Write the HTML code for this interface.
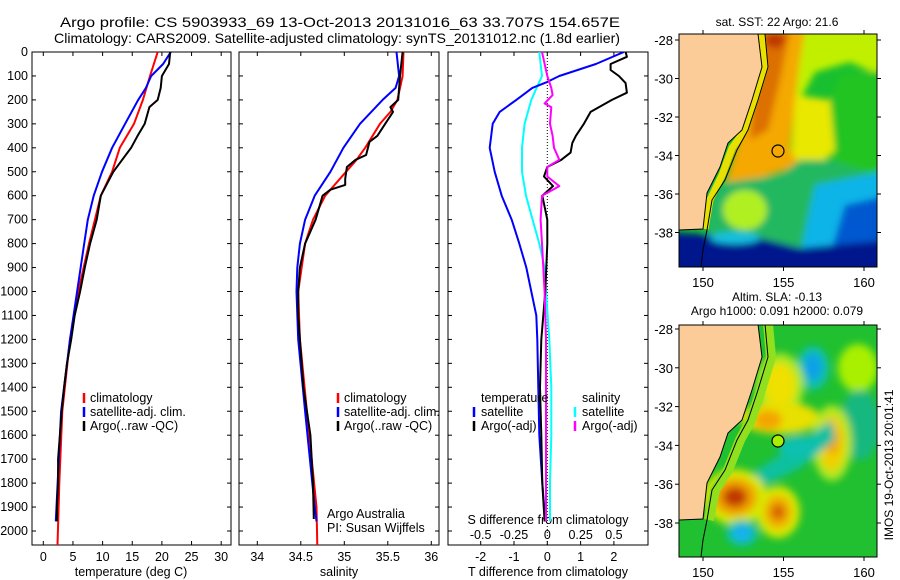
<!DOCTYPE html>
<html><head><meta charset="utf-8">
<style>
html,body{margin:0;padding:0;background:#fff;}
svg{display:block;font-family:"Liberation Sans",sans-serif;}
text{font-size:12.5px;fill:#000;}
</style></head>
<body>
<svg id="fig" width="900" height="580" viewBox="0 0 900 580" xmlns="http://www.w3.org/2000/svg">
<defs>
<clipPath id="c1"><rect x="32" y="52" width="199" height="493"/></clipPath>
<clipPath id="c2"><rect x="239" y="52" width="200" height="493"/></clipPath>
<clipPath id="c3"><rect x="448" y="52" width="200" height="493"/></clipPath>
<clipPath id="cm1"><rect x="679" y="34" width="198" height="233"/></clipPath>
<clipPath id="cm2"><rect x="679" y="325" width="198" height="232"/></clipPath>
<filter id="bl" x="-20%" y="-20%" width="140%" height="140%"><feGaussianBlur stdDeviation="3.5"/></filter>
<filter id="bl2" x="-30%" y="-30%" width="160%" height="160%"><feGaussianBlur stdDeviation="4"/></filter>
</defs>
<g>
<text x="340" y="27" text-anchor="middle" textLength="560" lengthAdjust="spacingAndGlyphs" style="font-size:14px">Argo profile: CS 5903933_69 13-Oct-2013 20131016_63 33.707S 154.657E</text>
<text x="337" y="43" text-anchor="middle" textLength="566" lengthAdjust="spacingAndGlyphs" style="font-size:14px">Climatology: CARS2009. Satellite-adjusted climatology: synTS_20131012.nc (1.8d earlier)</text>
</g>
<g id="depthLabels"></g>
<g id="p1"></g>
<g id="p2"></g>
<g id="p3"></g>

<!-- SST map -->
<g>
<text x="777" y="26" text-anchor="middle" style="font-size:12px">sat. SST: 22 Argo: 21.6</text>
<g clip-path="url(#cm1)">
<rect x="679" y="34" width="198" height="233" fill="#18c030"/>
<g filter="url(#bl)">
<polygon points="760,20 890,20 890,80 850,62 815,72 800,100 780,110" fill="#c0f000"/>
<polygon points="840,75 890,70 890,175 850,190 828,150 830,100" fill="#20c420"/>
<polygon points="795,95 830,100 835,150 815,170 790,170" fill="#e8e800"/>
<polygon points="755,30 805,30 800,60 795,100 790,150 800,165 770,175 722,192 735,150 752,100" fill="#f4a800"/>
<polygon points="760,30 790,30 780,80 768,130 750,140 755,80" fill="#dc7000"/>
<ellipse cx="775" cy="40" rx="10" ry="8" fill="#c03800"/>
<polygon points="705,185 780,175 800,160 830,160 877,175 877,250 705,245" fill="#20b860"/>
<ellipse cx="745" cy="210" rx="22" ry="20" fill="#b0f020"/>
<polygon points="815,185 890,170 890,255 800,255" fill="#10b4e8"/>
<polygon points="845,205 890,195 890,260 830,255" fill="#0058d0"/>
<polygon points="670,232 760,238 800,248 890,240 890,280 670,280" fill="#00188c"/>
<ellipse cx="735" cy="238" rx="25" ry="6" fill="#18c0e0"/>
</g>
<polyline points="762,34 765,67 755,100 745,130 732,148 722,175 710,200 705,229" fill="none" stroke="#e8e000" stroke-width="7"/>
<polygon points="679,34 758,34 762,67 752,100 742,130 728,143 720,167 707,193 703,229 679,230" fill="#fbcb98" stroke="#000" stroke-width="1"/>
<polyline points="765,34 768,67 758,100 748,130 737,150 725,180 712,200 707,230 703,250 701,267" fill="none" stroke="#000" stroke-width="1"/>
<circle cx="778" cy="151" r="6" fill="none" stroke="#000" stroke-width="1.2"/>
</g>
<rect x="679" y="34" width="198" height="233" fill="none" stroke="#000" stroke-width="1"/>
<g id="m1ticks"></g>
</g>

<!-- SLA map -->
<g>
<text x="777" y="301" text-anchor="middle" style="font-size:12px">Altim. SLA: -0.13</text>
<text x="777" y="315" text-anchor="middle" style="font-size:12px">Argo h1000: 0.091 h2000: 0.079</text>
<g clip-path="url(#cm2)">
<rect x="679" y="325" width="198" height="232" fill="#20c030"/>
<g filter="url(#bl2)">
<ellipse cx="858" cy="368" rx="20" ry="24" fill="#a8f000"/>
<ellipse cx="860" cy="425" rx="20" ry="35" fill="#18b880"/>
<ellipse cx="813" cy="368" rx="16" ry="22" fill="#10c0b0"/>
<ellipse cx="813" cy="367" rx="9" ry="13" fill="#10a0e8"/>
<ellipse cx="780" cy="385" rx="24" ry="32" fill="#a8e820"/>
<ellipse cx="780" cy="385" rx="16" ry="22" fill="#f0e000"/>
<ellipse cx="780" cy="418" rx="40" ry="16" fill="#e8e000"/>
<ellipse cx="768" cy="420" rx="14" ry="10" fill="#f4a400"/>
<ellipse cx="832" cy="443" rx="20" ry="38" fill="#b0e820"/>
<ellipse cx="832" cy="443" rx="13" ry="28" fill="#f0d000"/>
<ellipse cx="832" cy="440" rx="7" ry="14" fill="#f0a000"/>
<polygon points="745,478 800,442 832,420 835,440 800,468 755,490" fill="#10c0a0"/>
<ellipse cx="800" cy="447" rx="22" ry="11" fill="#10c0b0"/>
<ellipse cx="735" cy="497" rx="32" ry="28" fill="#d8e800"/>
<ellipse cx="735" cy="497" rx="22" ry="19" fill="#f0a000"/>
<ellipse cx="735" cy="497" rx="12" ry="10" fill="#c03800"/>
<ellipse cx="778" cy="512" rx="22" ry="26" fill="#d8e800"/>
<ellipse cx="778" cy="512" rx="14" ry="17" fill="#f0b000"/>
<ellipse cx="778" cy="512" rx="7" ry="8" fill="#d86000"/>
<ellipse cx="742" cy="533" rx="16" ry="13" fill="#10c0b0"/>
<ellipse cx="742" cy="533" rx="9" ry="8" fill="#18b0f0"/>
</g>
<g transform="translate(0,290)">
<polyline points="768,34 771,67 761,100 751,130 740,150 728,180 715,200 709,230" fill="none" stroke="#90e020" stroke-width="10"/>
<polygon points="679,34 758,34 762,67 752,100 742,130 728,143 720,167 707,193 703,229 679,230" fill="#fbcb98" stroke="#000" stroke-width="1"/>
<polyline points="765,34 768,67 758,100 748,130 737,150 725,180 712,200 707,230 703,250 701,267" fill="none" stroke="#000" stroke-width="1"/>
</g>
<circle cx="778" cy="441" r="6" fill="#a8f000" stroke="#000" stroke-width="1.2"/>
</g>
<rect x="679" y="325" width="198" height="232" fill="none" stroke="#000" stroke-width="1"/>
<g id="m2ticks"></g>
</g>
<text transform="translate(893,465) rotate(-90)" text-anchor="middle" style="font-size:12px">IMOS 19-Oct-2013 20:01:41</text>
</svg>
<script>
// ---- data ----
var tArgoDepth=[0,50,100,150,200,230,300,350,400,500,600,700,800,900,1000,1100,1200,1300,1400,1500,1600,1700,1800,1900,1960];
var tArgo=[21.4,21.2,20.0,19.8,19.3,17.9,17.1,15.9,14.8,11.8,9.7,9.0,7.9,7.0,6.2,5.3,4.7,4.0,3.5,3.1,2.8,2.5,2.5,2.3,2.3];
var tClimDepth=[0,100,200,300,400,500,600,700,800,1000,1200,1500,1800,2060];
var tClim=[19.3,18.0,16.8,15.3,12.9,11.6,9.7,8.7,7.7,5.9,4.5,3.2,2.7,2.4];
var tSatDepth=[0,50,100,150,200,300,400,500,600,700,800,1000,1200,1500,1960];
var tSat=[21.5,20.2,18.2,17.3,16.0,13.8,11.6,9.9,8.5,7.5,6.9,5.7,4.5,3.0,2.1];
var sArgoDepth=[0,100,200,230,250,300,350,375,430,450,480,530,555,575,600,700,800,900,1000,1100,1200,1400,1600,1800,1950];
var sArgo=[35.67,35.64,35.62,35.53,35.56,35.47,35.38,35.29,35.25,35.13,35.03,35.01,35.01,34.84,34.75,34.67,34.55,34.49,34.47,34.47,34.49,34.53,34.61,34.64,34.65];
var sClimDepth=[0,100,200,250,300,400,450,500,600,700,800,1000,1200,1500,1900,2060];
var sClim=[35.68,35.67,35.61,35.53,35.41,35.24,35.14,35.02,34.78,34.64,34.55,34.47,34.49,34.57,34.68,34.69];
var sSatDepth=[0,100,150,200,300,400,500,600,700,800,900,1000,1200,1500,1900,1960];
var sSat=[35.60,35.63,35.59,35.44,35.18,34.99,34.84,34.66,34.55,34.49,34.46,34.45,34.47,34.55,34.66,34.68];
var dtSatDepth=[0,50,100,125,150,200,250,300,400,500,600,700,800,900,1000,1100,1200,1400,1600,1800,1960];
var dtSat=[2.3,1.46,0.36,0,-0.45,-0.93,-1.43,-1.64,-1.73,-1.58,-1.37,-1.07,-0.84,-0.63,-0.48,-0.33,-0.3,-0.27,-0.24,-0.15,-0.06];
var dtArgoDepth=[0,20,50,75,100,130,170,200,250,300,350,380,420,450,480,520,560,600,700,800,1000,1200,1400,1600,1800,1960];
var dtArgo=[2.35,2.39,1.9,1.9,2.15,2.35,2.39,1.94,1.3,1.1,0.86,0.75,0.7,0.42,0,-0.1,0.17,-0.15,0,0,-0.06,-0.18,-0.22,-0.18,-0.15,-0.08];
var dsSatDepth=[0,100,150,200,300,400,500,600,700,800,900,1000,1200,1400,1600,1800,1960];
var dsSat=[-0.06,-0.04,-0.08,-0.12,-0.17,-0.19,-0.19,-0.16,-0.11,-0.06,-0.02,-0.01,0.015,0.03,0.03,0.02,0.02];
var dsArgoDepth=[0,100,150,180,215,230,300,350,400,450,480,520,560,600,700,800,1000,1200,1600,1960];
var dsArgo=[-0.04,0,0.03,0.04,-0.02,0.03,0.02,0.04,0.05,0.09,0,0,0.09,-0.04,-0.05,-0.04,-0.02,-0.01,-0.01,-0.01];
var depthTicks=[0,100,200,300,400,500,600,700,800,900,1000,1100,1200,1300,1400,1500,1600,1700,1800,1900,2000];
var tTicks=[0,5,10,15,20,25,30];
var sTicks=[34,34.5,35,35.5,36];
var dtTicks=[-2,-1,0,1,2];
var dsTicks=[-0.5,-0.25,0,0.25,0.5];
var dsTickLabels=["-0.5","-0.25","0","0.25","0.5"];
var lonTicks=[150,155,160];
var latTicks=[-28,-30,-32,-34,-36,-38];

// ---- scales ----
var NS="http://www.w3.org/2000/svg";
function yD(d){return 52+d*0.2395;}
function xT(t){return 43.3+t*5.93;}
function xS(s){return 257.3+(s-34)*87;}
function xDT(v){return 547.3+v*33.3;}
function xDS(v){return 547.3+v*133.3;}
function mk(tag,attrs,parent){var e=document.createElementNS(NS,tag);for(var k in attrs)e.setAttribute(k,attrs[k]);parent.appendChild(e);return e;}
function line(parent,xs,ds,xf,color,w,name){
  var p=xs.map(function(v,i){return xf(v).toFixed(1)+","+yD(ds[i]).toFixed(1);}).join(" ");
  var e=mk("polyline",{points:p,fill:"none",stroke:color,"stroke-width":w,"stroke-linejoin":"round"},parent);
  
  
}
function txt(parent,x,y,s,anchor,name,size){
  var e=mk("text",{x:x,y:y,"text-anchor":anchor||"start"},parent);
  if(size)e.setAttribute("style","font-size:"+size+"px");
  e.textContent=s;
  
  
  return e;
}
function frame(parent,x0,x1,name){
  var r=mk("rect",{x:x0,y:52,width:x1-x0,height:493,fill:"none",stroke:"#000","stroke-width":1},parent);
  
  
  depthTicks.forEach(function(d){
    mk("line",{x1:x0,x2:x0+4,y1:yD(d),y2:yD(d),stroke:"#000"},parent);
    mk("line",{x1:x1,x2:x1-4,y1:yD(d),y2:yD(d),stroke:"#000"},parent);
  });
}
function xticks(parent,ticks,xf,labels,name){
  ticks.forEach(function(t,i){
    var x=xf(t);
    mk("line",{x1:x,x2:x,y1:52,y2:56,stroke:"#000"},parent);
    mk("line",{x1:x,x2:x,y1:545,y2:541,stroke:"#000"},parent);
    txt(parent,x,561,labels?labels[i]:String(t),"middle",name);
  });
}
function legendBar(parent,x,y,color,name){
  var e=mk("line",{x1:x,x2:x,y1:y-10,y2:y,stroke:color,"stroke-width":2.5},parent);
  
  
}

var dl=document.getElementById("depthLabels");
depthTicks.forEach(function(d){txt(dl,28,yD(d)+4,String(d),"end","depth-tick-label");});

// Panel 1
var p1=document.getElementById("p1");
frame(p1,32,231,"temperature-plot-frame");
xticks(p1,tTicks,xT,null,"temperature-tick-label");
txt(p1,131,576,"temperature (deg C)","middle","temperature-axis-title");
var g1=mk("g",{"clip-path":"url(#c1)"},p1);
line(g1,tClim,tClimDepth,xT,"#ff0000",2,"temperature-climatology-line");
line(g1,tSat,tSatDepth,xT,"#0000ff",2,"temperature-satellite-line");
line(g1,tArgo,tArgoDepth,xT,"#000000",2,"temperature-argo-line");
legendBar(p1,84,403,"#ff0000","legend-climatology-swatch");txt(p1,90,402,"climatology","start","legend-climatology");
legendBar(p1,84,417,"#0000ff","legend-satellite-swatch");txt(p1,90,416,"satellite-adj. clim.","start","legend-satellite");
legendBar(p1,84,431,"#000000","legend-argo-swatch");txt(p1,90,430,"Argo(..raw -QC)","start","legend-argo");

// Panel 2
var p2=document.getElementById("p2");
frame(p2,239,439,"salinity-plot-frame");
xticks(p2,sTicks,xS,null,"salinity-tick-label");
txt(p2,339,576,"salinity","middle","salinity-axis-title");
var g2=mk("g",{"clip-path":"url(#c2)"},p2);
line(g2,sClim,sClimDepth,xS,"#ff0000",2,"salinity-climatology-line");
line(g2,sSat,sSatDepth,xS,"#0000ff",2,"salinity-satellite-line");
line(g2,sArgo,sArgoDepth,xS,"#000000",2,"salinity-argo-line");
legendBar(p2,338,403,"#ff0000","legend-climatology-swatch");txt(p2,344,402,"climatology","start","legend-climatology");
legendBar(p2,338,417,"#0000ff","legend-satellite-swatch");txt(p2,344,416,"satellite-adj. clim.","start","legend-satellite");
legendBar(p2,338,431,"#000000","legend-argo-swatch");txt(p2,344,430,"Argo(..raw -QC)","start","legend-argo");
txt(p2,327,518,"Argo Australia","start","argo-australia-note");
txt(p2,327,532,"PI: Susan Wijffels","start","pi-note");

// Panel 3
var p3=document.getElementById("p3");
frame(p3,448,648,"difference-plot-frame");
xticks(p3,dtTicks,xDT,null,"t-diff-tick-label");
txt(p3,548,576,"T difference from climatology","middle","t-diff-axis-title");
dsTicks.forEach(function(t,i){txt(p3,xDS(t),539,dsTickLabels[i],"middle","s-diff-tick-label");});
txt(p3,548,524,"S difference from climatology","middle","s-diff-axis-title");
var zl=mk("line",{x1:xDT(0),x2:xDT(0),y1:52,y2:545,stroke:"#000","stroke-dasharray":"1,2"},p3);


var g3=mk("g",{"clip-path":"url(#c3)"},p3);
line(g3,dsSat,dsSatDepth,xDS,"#00ffff",2,"s-diff-satellite-line");
line(g3,dtSat,dtSatDepth,xDT,"#0000ff",2,"t-diff-satellite-line");
line(g3,dtArgo,dtArgoDepth,xDT,"#000000",2,"t-diff-argo-line");
line(g3,dsArgo,dsArgoDepth,xDS,"#ff00ff",2,"s-diff-argo-line");
txt(p3,481,402,"temperature","start","legend-temperature-heading");
legendBar(p3,474,417,"#0000ff","legend-t-satellite-swatch");txt(p3,481,416,"satellite","start","legend-t-satellite");
legendBar(p3,474,431,"#000000","legend-t-argo-swatch");txt(p3,481,430,"Argo(-adj)","start","legend-t-argo");
txt(p3,582,402,"salinity","start","legend-salinity-heading");
legendBar(p3,575,417,"#00ffff","legend-s-satellite-swatch");txt(p3,582,416,"satellite","start","legend-s-satellite");
legendBar(p3,575,431,"#ff00ff","legend-s-argo-swatch");txt(p3,582,430,"Argo(-adj)","start","legend-s-argo");

// map ticks
function mapTicks(id,y0,y1,latY0,latScale){
  var g=document.getElementById(id);
  lonTicks.forEach(function(l){
    var x=703+(l-150)*16.1;
    mk("line",{x1:x,x2:x,y1:y0,y2:y0-4,stroke:"#000"},g);
    mk("line",{x1:x,x2:x,y1:y1,y2:y1+4,stroke:"#000"},g);
    txt(g,x,y1+20,String(l),"middle","map-lon-tick-label",13);
  });
  latTicks.forEach(function(l){
    var y=latY0+(-28-l)*latScale;
    mk("line",{x1:679,x2:675,y1:y,y2:y,stroke:"#000"},g);
    mk("line",{x1:877,x2:881,y1:y,y2:y,stroke:"#000"},g);
    txt(g,673,y+5,String(l),"end","map-lat-tick-label",13);
  });
}
mapTicks("m1ticks",34,267,40,19.25);
mapTicks("m2ticks",325,557,329,19.4);
</script>
</body></html>
